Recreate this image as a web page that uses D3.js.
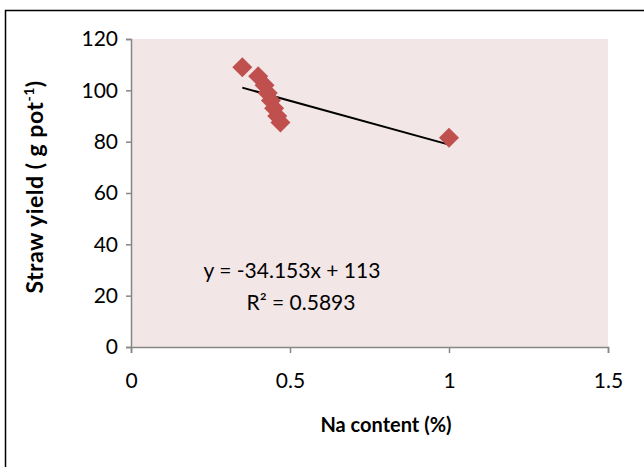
<!DOCTYPE html>
<html>
<head>
<meta charset="utf-8">
<script src="https://cdn.jsdelivr.net/npm/d3@7"></script>
<style>
  body { margin: 0; background: #fff; }
  text { font-family: Lato, "Open Sans", sans-serif; fill: #000; }
</style>
</head>
<body>
<div id="chart"></div>
<script>
// values
var naContent = [0.35, 0.40, 0.42, 0.43, 0.44, 0.45, 0.46, 0.47, 1.00];
var strawYield = [109, 105.5, 102, 99, 96, 93, 90, 87.5, 81.5];
var xTicks = [0, 0.5, 1, 1.5];
var yTicks = [0, 20, 40, 60, 80, 100, 120];
var trendSlope = -34.153;
var trendIntercept = 113;
var trendLabel = "y = -34.153x + 113";
var r2Label = "R² = 0.5893";

var width = 644, height = 467;
var margin = { top: 39, right: 36, bottom: 120, left: 131 };

var svg = d3.select("#chart").append("svg")
    .attr("width", width)
    .attr("height", height);

// outer chart frame (runs off the right and bottom of the picture)
svg.append("rect")
    .attr("x", 5.5).attr("y", 10.5)
    .attr("width", 700).attr("height", 500)
    .attr("fill", "none")
    .attr("stroke", "#000")
    .attr("stroke-width", 1.5);

var x = d3.scaleLinear().domain([0, 1.5]).range([margin.left, width - margin.right]);
var y = d3.scaleLinear().domain([0, 120]).range([height - margin.bottom, margin.top]);

// plot area
svg.append("rect")
    .attr("x", x(0)).attr("y", y(120))
    .attr("width", x(1.5) - x(0)).attr("height", y(0) - y(120))
    .attr("fill", "#f2e6e6");

var yAxis = svg.append("g")
    .attr("transform", "translate(" + x(0) + ",0)")
    .call(d3.axisLeft(y).tickValues(yTicks).tickSize(5).tickPadding(8).tickFormat(d3.format("d")));

var xAxis = svg.append("g")
    .attr("transform", "translate(0," + y(0) + ")")
    .call(d3.axisBottom(x).tickValues(xTicks).tickSize(6).tickPadding(20).tickFormat(function (d) { return d; }));

[xAxis, yAxis].forEach(function (ax) {
    ax.select(".domain").attr("stroke", "#868686").attr("stroke-width", 1.5);
    ax.selectAll(".tick line").attr("stroke", "#868686").attr("stroke-width", 1.5);
    ax.selectAll("text").style("font-size", "21px").style("font-family", "Lato, sans-serif").attr("fill", "#000");
});

// trend line over the range of the data
var xr = d3.extent(naContent);
svg.append("line")
    .attr("x1", x(xr[0])).attr("y1", y(trendSlope * xr[0] + trendIntercept))
    .attr("x2", x(xr[1])).attr("y2", y(trendSlope * xr[1] + trendIntercept))
    .attr("stroke", "#000")
    .attr("stroke-width", 2);

var diamond = d3.symbol().type(d3.symbolSquare).size(200);
svg.selectAll(".pt")
    .data(naContent)
    .enter().append("path")
    .attr("class", "pt")
    .attr("d", diamond)
    .attr("transform", function (d, i) { return "translate(" + x(d) + "," + y(strawYield[i]) + ") rotate(45)"; })
    .attr("fill", "#c0504d");

svg.append("text")
    .attr("x", 292).attr("y", 278)
    .attr("text-anchor", "middle")
    .style("font-size", "21px")
    .text(trendLabel);

svg.append("text")
    .attr("x", 301).attr("y", 310)
    .attr("text-anchor", "middle")
    .style("font-size", "21px")
    .text(r2Label);

// axis titles
svg.append("text")
    .attr("x", 386).attr("y", 432)
    .attr("text-anchor", "middle")
    .style("font-size", "20px")
    .style("font-weight", "bold")
    .text("Na content (%)");

var yt = svg.append("text")
    .attr("transform", "translate(43,187) rotate(-90)")
    .attr("text-anchor", "middle")
    .style("font-size", "23px")
    .style("letter-spacing", "0.5px")
    .style("font-weight", "bold");
yt.append("tspan").text("Straw yield ( g pot");
yt.append("tspan").attr("dy", -9).style("font-size", "14px").text("-1");
yt.append("tspan").attr("dy", 9).text(")");
</script>
</body>
</html>
